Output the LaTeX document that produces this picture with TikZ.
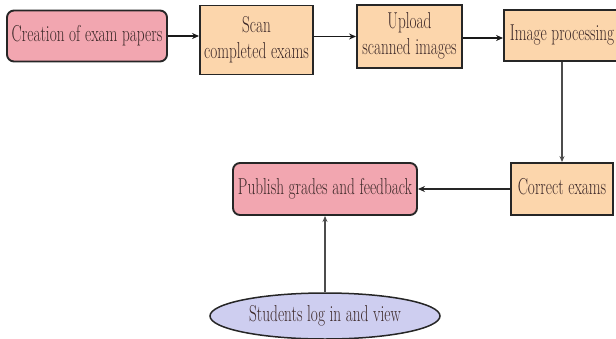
\documentclass[tikz,border=0pt]{standalone}
\usepackage{graphicx}
\usetikzlibrary{shapes.geometric,arrows.meta}
\definecolor{pinkf}{RGB}{242,166,176}
\definecolor{orangef}{RGB}{252,214,172}
\definecolor{lavf}{RGB}{206,206,240}
\definecolor{txt}{RGB}{60,40,40}
\newcommand{\sq}[1]{\scalebox{0.665}[1]{\begin{tabular}{@{}c@{}}#1\end{tabular}}}
\tikzset{
  base/.style={draw=black!85, line width=1.9pt, inner sep=0pt, text=txt,
    font=\fontsize{23}{26}\selectfont},
  pinkbox/.style={base, rectangle, rounded corners=7pt, fill=pinkf},
  orbox/.style={base, rectangle, fill=orangef},
  ell/.style={base, ellipse, fill=lavf, line width=1.5pt},
  thickarr/.style={-{Stealth[length=7pt,width=6pt]}, line width=1.9pt, draw=black!90},
  midarr/.style={-{Stealth[length=7pt,width=6pt]}, line width=1.4pt, draw=black!85},
  thinarr/.style={-{Stealth[length=6pt,width=5pt]}, line width=1.2pt, draw=black!70},
}
\begin{document}
\begin{tikzpicture}[x=1pt,y=-1pt]
\useasboundingbox[fill=white] (0,0) rectangle (616,338);
\node[pinkbox, minimum width=160pt, minimum height=51pt] (creation) at (87,36) {\sq{Creation of exam papers}};
\node[orbox, minimum width=113pt, minimum height=69pt] (scan) at (256.5,40) {\sq{Scan\\completed exams}};
\node[orbox, minimum width=105pt, minimum height=63pt] (upload) at (409.5,36.5) {\sq{Upload\\scanned images}};
\node[orbox, minimum width=116pt, minimum height=51pt] (image) at (562,35.5) {\sq{Image processing}};
\node[orbox, minimum width=102pt, minimum height=52pt] (correct) at (562,189) {\sq{Correct exams}};
\node[pinkbox, minimum width=184pt, minimum height=52pt] (publish) at (325,189) {\sq{Publish grades and feedback}};
\node[ell, minimum width=230pt, minimum height=46pt] (students) at (325,316) {\sq{Students log in and view}};
\draw[thickarr] (creation) -- (creation -| scan.west);
\draw[thickarr] (scan.east |- upload) -- (upload);
\draw[thickarr] (upload.east |- 0,38) -- (image.west |- 0,38);
\draw[thinarr] (image) -- (correct);
\draw[midarr] (correct) -- (publish);
\draw[thinarr] (students) -- (publish);
\end{tikzpicture}
\end{document}
